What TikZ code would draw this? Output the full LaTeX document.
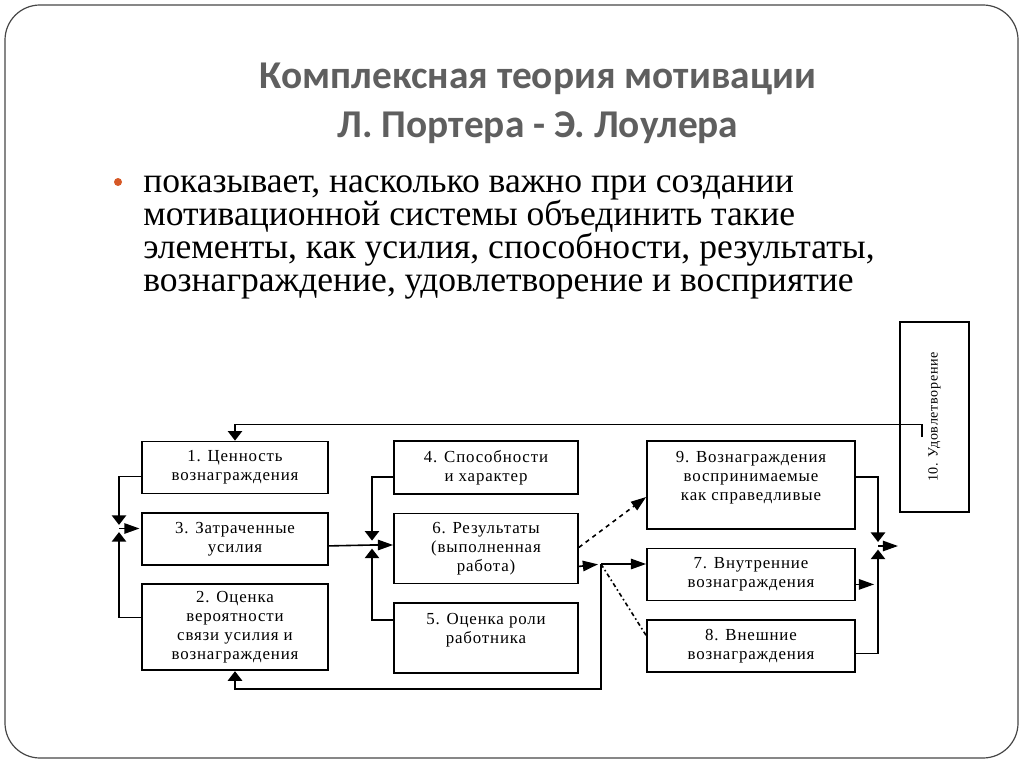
\documentclass[tikz,border=0pt]{standalone}
\usepackage{fontspec}
\setmainfont{Liberation Serif}
\newfontfamily\titlefont{Carlito}
\newfontfamily\boxfont[LetterSpace=5]{Liberation Serif}
\usetikzlibrary{arrows.meta,positioning,calc}
\definecolor{framegray}{RGB}{70,70,70}
\definecolor{titlegray}{RGB}{95,95,95}
\definecolor{bulletorange}{RGB}{214,88,38}
\tikzset{
    block/.style={
        rectangle,
        draw=black,
        line width=0.45mm,
        align=center,
        inner sep=0pt,
        minimum height=13mm,
        font=\boxfont\fontsize{12}{13.5}\selectfont,
    },
    colA/.style={block, minimum width=46.5mm},
    colB/.style={block, minimum width=46mm},
    colC/.style={block, minimum width=52mm},
    link/.style={line width=0.4mm},
    flowh/.style={link, -{Triangle[length=3.8mm,width=2.6mm]}},
    flowv/.style={link, -{Triangle[length=2.4mm,width=3.6mm]}},
}

\begin{document}
\begin{tikzpicture}[x=0.25mm,y=-0.25mm,node distance=4.4mm]
    \useasboundingbox (0,0) rectangle (1024,767);
    % slide frame
    \draw[framegray, line width=0.3mm, rounded corners=8.75mm] (5,5) rectangle (1018,758);
    % heading
    \node[titlegray, font=\titlefont\bfseries\fontsize{28}{35}\selectfont, align=center] (title) at (538,103)
        {Комплексная теория мотивации\\ Л. Портера - Э. Лоулера};
    \fill[bulletorange] (118,182) circle (4);
    \node[anchor=north west, inner sep=0pt, align=left, font=\fontsize{25.3}{23.5}\selectfont] (lead) at (143,175)
        {показывает, насколько важно при создании\\
         мотивационной системы объединить такие\\
         элементы, как усилия, способности, результаты,\\
         вознаграждение, удовлетворение и восприятие};
    % first column
    \node[colA] (value) at (235,467.5) {1. Ценность\\вознаграждения};
    \node[colA, below=of value] (effort) {3. Затраченные\\усилия};
    \node[colA, below=of effort, minimum height=21.5mm] (prob) {2. Оценка\\вероятности\\связи усилия и\\вознаграждения};
    % second column
    \node[colB, minimum height=13.25mm] (abil) at (486,467.5) {4. Способности\\и характер};
    \node[colB, below=of abil, minimum height=17.5mm] (perf) {6. Результаты\\(выполненная\\работа)};
    \node[colB, below=of perf, minimum height=17.5mm] (role) {5. Оценка роли\\работника\\\mbox{}};
    % third column
    \node[colC, minimum height=22mm] (fair) at (751,485) {9. Вознаграждения\\воспринимаемые\\как справедливые\\\mbox{}};
    \node[colC, below=of fair] (intr) {7. Внутренние\\вознаграждения};
    \node[colC, below=of intr] (extr) {8. Внешние\\вознаграждения};
    % satisfaction
    \node[block, rotate=90, minimum width=47.5mm, minimum height=17.25mm,
          font=\boxfont\fontsize{10}{12}\selectfont] (satis) at (934.5,417) {10. Удовлетворение};
    % junctions
    \coordinate (jl) at (119,528.5);
    \coordinate (jm) at (372,545);
    \coordinate (jr) at (878,546);
    \coordinate (split) at (601,564);
    \coordinate (satin) at (922,437);
    \coordinate (satout) at (898,546);
    % connectors
    \draw[flowv, shorten >=0.9mm] ([yshift=-2.25mm]value.west) -| (jl);
    \draw[flowv, shorten >=0.9mm] ([yshift=2.5mm]prob.west) -| (jl);
    \draw[flowh, shorten >=0.4mm] (jl) -- (jl -| effort.west);
    \draw[link] ([yshift=-1.75mm]effort.east) -- (jm);
    \draw[flowv, shorten >=1.1mm] ([yshift=-2.4mm]abil.west) -| (jm);
    \draw[flowv, shorten >=0.9mm] ([yshift=4.5mm]role.west) -| (jm);
    \draw[flowh] (jm) -- (jm -| perf.west);
    \draw[flowh, shorten >=0.75mm] ([yshift=-4.5mm]perf.east) -- (split);
    \draw[flowh] (split) -- (split -| intr.west);
    \draw[flowh, dashed] ([yshift=0.25mm]perf.east) -- ([yshift=-3mm]fair.west);
    \draw[link, dash dot] (split) -- ([yshift=2.6mm]extr.west);
    \draw[flowv, shorten >=1mm] ([yshift=2mm]fair.east) -| (jr);
    \draw[flowv, shorten >=0.9mm] ([yshift=-1.9mm]extr.east) -| (jr);
    \draw[flowh, shorten >=1.2mm] ([yshift=-2.5mm]intr.east) -- ++(23,0);
    \draw[flowh] (jr) -- (satout);
    \draw[flowv] (satin) |- ([yshift=4mm]value.north) -- (value.north);
    \draw[flowv] (split) |- ([yshift=-4.5mm]prob.south) -- (prob.south);
\end{tikzpicture}
\end{document}
